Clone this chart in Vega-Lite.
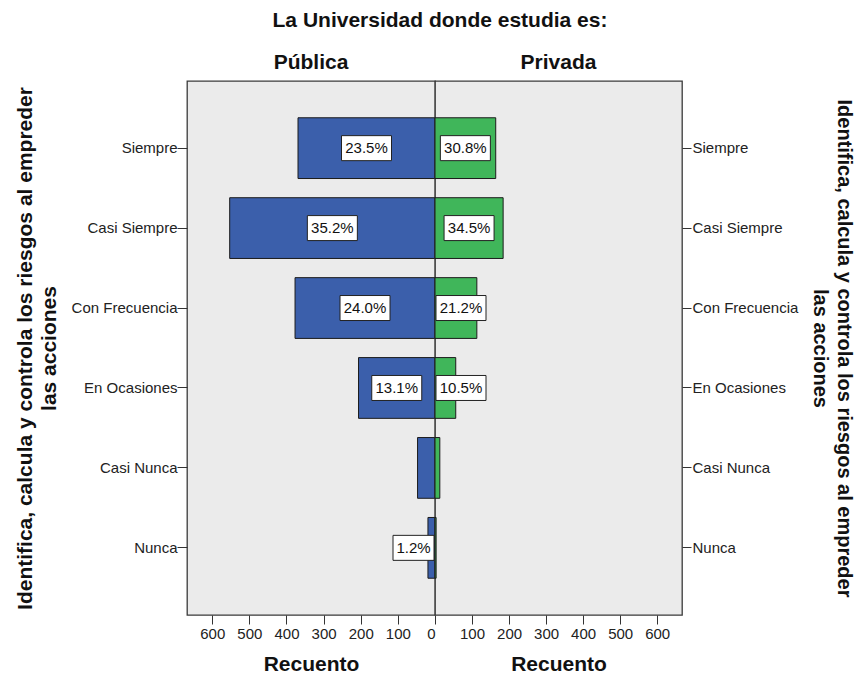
{
  "$schema": "https://vega.github.io/schema/vega-lite/v6.json",
  "background": "white",
  "padding": {"left": 13, "top": 10, "right": 5, "bottom": 0},
  "bounds": "flush",
  "title": {"text": "La Universidad donde estudia es:", "font": "Liberation Sans", "fontSize": 21, "fontWeight": "bold", "color": "#111", "anchor": "middle", "offset": 20, "dx": 6},
  "data": {"values": [
    {"resp": "Siempre", "uni": "Pública", "count": 369, "label": "23.5%"},
    {"resp": "Casi Siempre", "uni": "Pública", "count": 553, "label": "35.2%"},
    {"resp": "Con Frecuencia", "uni": "Pública", "count": 377, "label": "24.0%"},
    {"resp": "En Ocasiones", "uni": "Pública", "count": 206, "label": "13.1%"},
    {"resp": "Casi Nunca", "uni": "Pública", "count": 47, "label": ""},
    {"resp": "Nunca", "uni": "Pública", "count": 19, "label": "1.2%"},
    {"resp": "Siempre", "uni": "Privada", "count": 164, "label": "30.8%"},
    {"resp": "Casi Siempre", "uni": "Privada", "count": 184, "label": "34.5%"},
    {"resp": "Con Frecuencia", "uni": "Privada", "count": 113, "label": "21.2%"},
    {"resp": "En Ocasiones", "uni": "Privada", "count": 56, "label": "10.5%"},
    {"resp": "Casi Nunca", "uni": "Privada", "count": 13, "label": ""},
    {"resp": "Nunca", "uni": "Privada", "count": 3, "label": ""}
  ]},
  "spacing": 0,
  "resolve": {"scale": {"x": "independent", "y": "independent"}},
  "config": {
    "font": "Liberation Sans",
    "view": {"fill": "#EBEBEB", "stroke": "#3a3a3a", "strokeWidth": 1.3},
    "axis": {"domain": false, "grid": false, "labelFont": "Liberation Sans", "labelFontSize": 15, "labelColor": "#222", "tickColor": "#333", "tickSize": 9, "titleFont": "Liberation Sans", "titleFontSize": 21, "titleFontWeight": "bold", "titleColor": "#111"}
  },
  "hconcat": [
    {
      "width": 248,
      "height": 534,
      "title": {"text": "Pública", "frame": "group", "anchor": "middle", "font": "Liberation Sans", "fontSize": 21, "fontWeight": "bold", "color": "#111", "baseline": "bottom", "offset": -13},
      "transform": [{"filter": "datum.uni === 'Pública'"}],
      "encoding": {
        "y": {"field": "resp", "type": "nominal", "sort": ["Siempre", "Casi Siempre", "Con Frecuencia", "En Ocasiones", "Casi Nunca", "Nunca"],
          "scale": {"paddingInner": 0.24, "paddingOuter": 0.46},
          "axis": {"orient": "left", "labelPadding": 0, "tickSize": 10, "title": ["Identifica, calcula y controla los riesgos al empreder", "las acciones"], "titlePadding": 12, "titleLineHeight": 24}}
      },
      "layer": [
        {
          "layer": [
            {"mark": {"type": "bar", "fill": "#3b5fab", "stroke": "#1b1b1b", "strokeWidth": 1},
             "encoding": {"x": {"field": "count", "type": "quantitative", "scale": {"domain": [0, 668], "reverse": true, "nice": false, "zero": true},
               "axis": {"values": [0, 100, 200, 300, 400, 500, 600], "title": "Recuento", "labelPadding": 2, "titlePadding": 12}}}},
            {"transform": [{"filter": "datum.label !== '' && datum.count < 135"}],
             "mark": {"type": "point", "filled": true, "fill": "white", "stroke": "#222", "strokeWidth": 1, "opacity": 1},
             "encoding": {"x": {"datum": 0}, "xOffset": {"value": -21.5},
               "shape": {"condition": {"test": "length(datum.label) < 5", "value": "M-1,-0.61L1,-0.61L1,0.61L-1,0.61Z"}, "value": "M-1,-0.5L1,-0.5L1,0.5L-1,0.5Z"},
               "size": {"condition": {"test": "length(datum.label) < 5", "value": 1681}, "value": 2500}}},
            {"transform": [{"filter": "datum.label !== '' && datum.count < 135"}],
             "mark": {"type": "text", "font": "Liberation Sans", "fontSize": 15, "color": "#111", "align": "center", "baseline": "middle"},
             "encoding": {"x": {"datum": 0}, "xOffset": {"value": -21.5}, "text": {"field": "label"}}}
          ]
        },
        {
          "layer": [
            {"transform": [{"filter": "datum.label !== '' && datum.count >= 135"}],
             "mark": {"type": "point", "filled": true, "fill": "white", "stroke": "#222", "strokeWidth": 1, "opacity": 1, "shape": "M-1,-0.5L1,-0.5L1,0.5L-1,0.5Z", "size": 2500},
             "encoding": {"x": {"field": "count", "type": "quantitative", "scale": {"domain": [0, 1336], "reverse": true, "nice": false, "zero": true}, "axis": null}}},
            {"transform": [{"filter": "datum.label !== '' && datum.count >= 135"}],
             "mark": {"type": "text", "font": "Liberation Sans", "fontSize": 15, "color": "#111", "align": "center", "baseline": "middle"},
             "encoding": {"x": {"field": "count", "type": "quantitative", "scale": {"domain": [0, 1336], "reverse": true, "nice": false, "zero": true}, "axis": null}, "text": {"field": "label"}}}
          ]
        }
      ],
      "resolve": {"scale": {"x": "independent"}, "axis": {"x": "independent"}}
    },
    {
      "width": 247,
      "height": 534,
      "title": {"text": "Privada", "frame": "group", "anchor": "middle", "font": "Liberation Sans", "fontSize": 21, "fontWeight": "bold", "color": "#111", "baseline": "bottom", "offset": -13},
      "transform": [{"filter": "datum.uni === 'Privada'"}],
      "encoding": {
        "y": {"field": "resp", "type": "nominal", "sort": ["Siempre", "Casi Siempre", "Con Frecuencia", "En Ocasiones", "Casi Nunca", "Nunca"],
          "scale": {"paddingInner": 0.24, "paddingOuter": 0.46},
          "axis": {"orient": "right", "labelPadding": 1, "tickSize": 9, "title": ["Identifica, calcula y controla los riesgos al empreder", "las acciones"], "titleFontSize": 20, "titlePadding": 12, "titleLineHeight": 24}}
      },
      "layer": [
        {
          "layer": [
            {"mark": {"type": "bar", "fill": "#40b65a", "stroke": "#1b1b1b", "strokeWidth": 1},
             "encoding": {"x": {"field": "count", "type": "quantitative", "scale": {"domain": [0, 667], "nice": false, "zero": true},
               "axis": {"values": [100, 200, 300, 400, 500, 600], "title": "Recuento", "labelPadding": 2, "titlePadding": 12}}}},
            {"transform": [{"filter": "datum.label !== '' && datum.count < 135"}],
             "mark": {"type": "point", "filled": true, "fill": "white", "stroke": "#222", "strokeWidth": 1, "opacity": 1, "shape": "M-1,-0.5L1,-0.5L1,0.5L-1,0.5Z", "size": 2500},
             "encoding": {"x": {"datum": 0}, "xOffset": {"value": 26}}},
            {"transform": [{"filter": "datum.label !== '' && datum.count < 135"}],
             "mark": {"type": "text", "font": "Liberation Sans", "fontSize": 15, "color": "#111", "align": "center", "baseline": "middle"},
             "encoding": {"x": {"datum": 0}, "xOffset": {"value": 26}, "text": {"field": "label"}}}
          ]
        },
        {
          "layer": [
            {"transform": [{"filter": "datum.label !== '' && datum.count >= 135"}],
             "mark": {"type": "point", "filled": true, "fill": "white", "stroke": "#222", "strokeWidth": 1, "opacity": 1, "shape": "M-1,-0.5L1,-0.5L1,0.5L-1,0.5Z", "size": 2500},
             "encoding": {"x": {"field": "count", "type": "quantitative", "scale": {"domain": [0, 1334], "nice": false, "zero": true}, "axis": null}}},
            {"transform": [{"filter": "datum.label !== '' && datum.count >= 135"}],
             "mark": {"type": "text", "font": "Liberation Sans", "fontSize": 15, "color": "#111", "align": "center", "baseline": "middle"},
             "encoding": {"x": {"field": "count", "type": "quantitative", "scale": {"domain": [0, 1334], "nice": false, "zero": true}, "axis": null}, "text": {"field": "label"}}}
          ]
        }
      ],
      "resolve": {"scale": {"x": "independent"}, "axis": {"x": "independent"}}
    }
  ]
}
